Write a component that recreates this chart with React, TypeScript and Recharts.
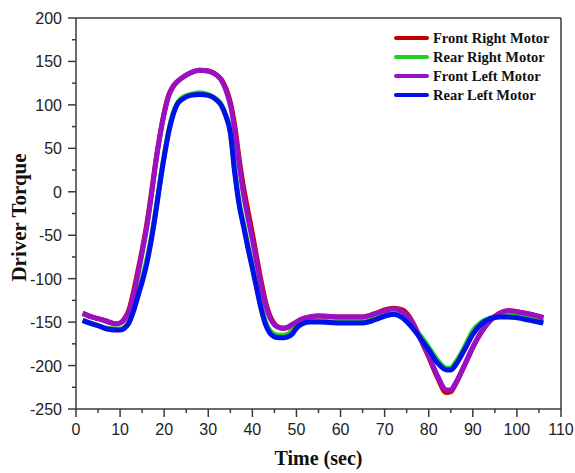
import React from "react";
import { LineChart, Line, XAxis, YAxis, Legend, ReferenceLine } from "recharts";

const time = [1.5, 3, 5, 7, 9, 10, 11, 12, 13, 14, 15, 16, 17, 18, 19, 20, 21, 22, 23, 24, 26, 28, 30, 32, 33, 34, 35, 36, 37, 38, 39, 40, 41, 42, 43, 44, 45, 46, 47, 48, 49, 50, 51, 53, 55, 60, 65, 68, 70, 72, 74, 76, 78, 80, 82, 84, 85, 86, 88, 90, 92, 94, 96, 98, 100, 103, 106];

const frontRight = [-140, -143, -146, -149, -152, -151, -146, -136, -116, -92, -67, -39, -5, 32, 64, 91, 111, 121, 127, 131, 137, 140, 139, 134, 129, 119, 103, 76, 38, 5, -22, -48, -76, -103, -127, -143, -152, -156, -157, -156, -153, -150, -147, -144, -143, -144, -144, -140, -136, -134, -136, -147, -168, -190, -214, -231, -230, -222, -201, -179, -161, -148, -140, -137, -138, -141, -145];
const rearRight = [-148, -151, -154, -157, -158, -158, -156, -150, -136, -118, -101, -80, -55, -24, 10, 42, 70, 90, 102, 108, 112, 114, 112, 106, 100, 88, 70, 25, -12, -37, -62, -85, -109, -132, -150, -160, -164, -165, -165, -164, -160, -155, -152, -149, -149, -150, -150, -146, -143, -141, -144, -153, -165, -179, -194, -203, -203, -197, -180, -160, -150, -145, -143, -143, -143, -146, -149];
const frontLeft = [-140, -143, -146, -149, -152, -151, -147, -138, -120, -96, -70, -42, -8, 30, 63, 90, 110, 121, 127, 131, 137, 140, 139, 134, 128, 117, 100, 72, 32, -3, -30, -55, -82, -108, -130, -145, -153, -156, -157, -156, -153, -150, -147, -144, -143, -144, -144, -140, -137, -135, -138, -148, -168, -189, -212, -228, -228, -221, -201, -179, -161, -148, -140, -137, -138, -141, -145];
const rearLeft = [-148, -151, -154, -158, -159, -159, -157, -151, -138, -121, -104, -84, -58, -27, 8, 40, 68, 88, 101, 106, 111, 112, 111, 105, 99, 87, 68, 22, -15, -40, -65, -88, -112, -135, -153, -163, -167, -168, -168, -167, -164, -157, -153, -150, -150, -151, -151, -147, -143, -141, -145, -155, -168, -182, -197, -205, -205, -200, -183, -164, -152, -146, -144, -144, -145, -148, -151];

const xTicks = [0, 5, 10, 15, 20, 25, 30, 35, 40, 45, 50, 55, 60, 65, 70, 75, 80, 85, 90, 95, 100, 105, 110];
const yTicks = [-250, -225, -200, -175, -150, -125, -100, -75, -50, -25, 0, 25, 50, 75, 100, 125, 150, 175, 200];

const seriesInfo = [
  { key: "fr", name: "Front Right Motor", color: "#c80000" },
  { key: "rr", name: "Rear Right Motor", color: "#1fd01f" },
  { key: "fl", name: "Front Left Motor", color: "#9a10c4" },
  { key: "rl", name: "Rear Left Motor", color: "#0010e8" },
];

const data = time.map((t, i) => ({
  t,
  fr: frontRight[i],
  rr: rearRight[i],
  fl: frontLeft[i],
  rl: rearLeft[i],
}));

const axisColor = "#3a3a3a";
const tickFont = "'Liberation Sans', Arial, sans-serif";
const labelFont = "'Liberation Serif', 'Times New Roman', serif";

const XTick = (props: any) => {
  const { x, y, payload } = props;
  const major = payload.value % 10 === 0;
  return (
    <g>
      <line x1={x} x2={x} y1={y} y2={y + (major ? 8 : 4)} stroke={axisColor} strokeWidth={1.5} />
      {major && (
        <text x={x} y={y + 26} textAnchor="middle" fontSize={16} fontFamily={tickFont} fill="#222">
          {payload.value}
        </text>
      )}
    </g>
  );
};

const YTick = (props: any) => {
  const { x, y, payload } = props;
  const major = payload.value % 50 === 0;
  return (
    <g>
      <line x1={x} x2={x - (major ? 8 : 4)} y1={y} y2={y} stroke={axisColor} strokeWidth={1.5} />
      {major && (
        <text x={x - 14} y={y + 6} textAnchor="end" fontSize={16} fontFamily={tickFont} fill="#222">
          {payload.value}
        </text>
      )}
    </g>
  );
};

const LegendBox = () => (
  <div style={{ fontFamily: labelFont, fontWeight: "bold", fontSize: 14.5, color: "#111" }}>
    {seriesInfo.map((s) => (
      <div key={s.key} style={{ display: "flex", alignItems: "center", height: 18.9 }}>
        <span style={{ display: "inline-block", width: 35, height: 4, borderRadius: 2, background: s.color, marginRight: 4 }} />
        <span>{s.name}</span>
      </div>
    ))}
  </div>
);

export default function App() {
  return (
    <div style={{ position: "absolute", left: 0, top: 0, width: 575, height: 473, background: "#fff" }}>
      <LineChart width={575} height={473} data={data} margin={{ top: 18, right: 14, bottom: 0, left: 0 }}>
        <XAxis
          dataKey="t"
          type="number"
          domain={[0, 110]}
          ticks={xTicks}
          interval={0}
          height={64}
          tickSize={0}
          tickMargin={0}
          tickLine={false}
          tick={<XTick />}
          axisLine={{ stroke: axisColor, strokeWidth: 1.5 }}
          label={({ viewBox }: any) => (
            <text
              x={viewBox.x + viewBox.width / 2}
              y={viewBox.y + 56}
              textAnchor="middle"
              fontSize={20}
              fontWeight="bold"
              fontFamily={labelFont}
              fill="#111"
            >
              Time (sec)
            </text>
          )}
        />
        <YAxis
          type="number"
          domain={[-250, 200]}
          ticks={yTicks}
          interval={0}
          width={76}
          tickSize={0}
          tickMargin={0}
          tickLine={false}
          tick={<YTick />}
          axisLine={{ stroke: axisColor, strokeWidth: 1.5 }}
          label={({ viewBox }: any) => {
            const cx = 26;
            const cy = viewBox.y + viewBox.height / 2 + 4;
            return (
              <text
                x={cx}
                y={cy}
                transform={`rotate(-90, ${cx}, ${cy})`}
                textAnchor="middle"
                fontSize={21}
                fontWeight="bold"
                fontFamily={labelFont}
                fill="#111"
              >
                Driver Torque
              </text>
            );
          }}
        />
        <ReferenceLine y={200} stroke={axisColor} strokeWidth={1.5} />
        <ReferenceLine x={110} stroke={axisColor} strokeWidth={1.5} />
        {seriesInfo.map((s) => (
          <Line
            key={s.key}
            dataKey={s.key}
            name={s.name}
            type="monotone"
            stroke={s.color}
            strokeWidth={5}
            dot={false}
            isAnimationActive={false}
          />
        ))}
        <Legend
          layout="vertical"
          align="center"
          verticalAlign="middle"
          content={<LegendBox />}
          wrapperStyle={{ top: 29, left: 394, width: 175 }}
        />
      </LineChart>
    </div>
  );
}
